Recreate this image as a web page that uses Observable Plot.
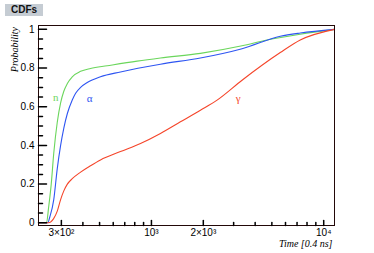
<!DOCTYPE html>
<html><head><meta charset="utf-8">
<script src="https://cdn.jsdelivr.net/npm/d3@7"></script>
<script src="https://cdn.jsdelivr.net/npm/@observablehq/plot@0.6"></script>
<style>
html,body{margin:0;padding:0;background:#fff;}
#wrap{position:relative;width:374px;height:253px;}
#title{position:absolute;left:5px;top:4px;width:38px;height:12px;background:#c5ccd3;font:bold 10px "Liberation Sans",Arial,sans-serif;color:#111;text-align:center;line-height:12px;}
#ylab{position:absolute;left:15px;top:27px;transform-origin:0 0;transform:rotate(-90deg) translate(-100%,-50%);white-space:nowrap;font:italic 10px "Liberation Serif","Times New Roman",serif;color:#000;line-height:12px;}
</style></head>
<body><div id="wrap"><div id="title">CDFs</div><div id="ylab">Probability</div></div>
<script>
// Time values [0.4 ns] and CDF values
const nTime   = [221, 246, 253, 262, 271, 284, 297, 310, 325, 347, 388, 443, 554, 826, 1128, 1924, 3357, 4686, 7307, 11550];
const nProb   = [0, 0, 0.08, 0.20, 0.36, 0.52, 0.62, 0.68, 0.72, 0.755, 0.783, 0.798, 0.812, 0.836, 0.852, 0.876, 0.915, 0.945, 0.975, 1.0];
const aTime   = [221, 250, 257, 271, 284, 297, 310, 325, 347, 363, 388, 424, 506, 661, 1128, 1924, 3357, 5596, 7307, 11550];
const aProb   = [0, 0, 0.03, 0.12, 0.28, 0.40, 0.49, 0.565, 0.635, 0.67, 0.70, 0.725, 0.755, 0.78, 0.82, 0.852, 0.90, 0.964, 0.981, 1.0];
const gTime   = [221, 253, 270, 284, 297, 310, 325, 347, 388, 443, 506, 661, 864, 1128, 1473, 1924, 2404, 3357, 5596, 7307, 11550];
const gProb   = [0, 0, 0.02, 0.06, 0.12, 0.165, 0.20, 0.228, 0.262, 0.295, 0.325, 0.368, 0.41, 0.462, 0.522, 0.582, 0.634, 0.737, 0.88, 0.945, 1.0];

const seriesNames  = ["n", "α", "γ"];
const seriesColors = ["#6bd65c", "#2e55f2", "#f5452a"];
const labelTime    = [278, 437, 3192];
const labelProb    = [0.65, 0.645, 0.645];

const xTickValues = [300, 1000, 2000, 10000];
const xTickLabels = ["3×10²", "10³", "2×10³", "10⁴"];
const xMinorTicks = [400, 500, 600, 700, 800, 900, 3000, 4000, 5000, 6000, 7000, 8000, 9000];
const yTickValues = [0, 0.2, 0.4, 0.6, 0.8, 1];
const yTickLabels = ["0", "0.2", "0.4", "0.6", "0.8", "1"];
const yMinorTicks = [0.05,0.1,0.15,0.25,0.3,0.35,0.45,0.5,0.55,0.65,0.7,0.75,0.85,0.9,0.95];

// right-edge drop segments of the histograms
const edgeSeries = ["n", "γ"];
const edgeLow    = [0.39, 0];
const edgeHigh   = [1.0, 0.39];

const xDomain = [221, 11550];
const yDomain = [-0.014, 1.02];

const colorOf = Object.fromEntries(seriesNames.map((s, i) => [s, seriesColors[i]]));
const curves = [
  ...nTime.map((t, i) => ({s: "n", t, p: nProb[i]})),
  ...aTime.map((t, i) => ({s: "α", t, p: aProb[i]})),
  ...gTime.map((t, i) => ({s: "γ", t, p: gProb[i]}))
];
const labels = seriesNames.map((s, i) => ({s, t: labelTime[i], p: labelProb[i]}));
const edges = edgeSeries.map((s, i) => ({s, y1: edgeLow[i], y2: edgeHigh[i]}));
const xLab = xTickValues.map((v, i) => ({v, text: xTickLabels[i]}));
const yLab = yTickValues.map((v, i) => ({v, text: yTickLabels[i]}));

const tickUp = {draw(ctx, l) { ctx.moveTo(0, 0); ctx.lineTo(0, -l); }};
const tickRight = {draw(ctx, l) { ctx.moveTo(0, 0); ctx.lineTo(l, 0); }};
const sans = "Liberation Sans, Arial, sans-serif";
const serif = "Liberation Serif, Times New Roman, serif";

const chart = Plot.plot({
  width: 374, height: 253,
  marginLeft: 38, marginRight: 40, marginTop: 25, marginBottom: 28,
  style: {background: "white", overflow: "visible"},
  x: {type: "log", domain: xDomain, axis: null},
  y: {domain: yDomain, axis: null},
  marks: [
    Plot.ruleY([yDomain[0]], {stroke: "#f08080", strokeWidth: 1}),
    Plot.line(curves, {x: "t", y: "p", z: "s", stroke: d => colorOf[d.s], strokeWidth: 1.1, curve: "monotone-x"}),
    Plot.ruleX(edges, {x: () => xDomain[1], y1: "y1", y2: "y2", stroke: d => colorOf[d.s], strokeWidth: 1}),
    Plot.frame({stroke: "#220808", strokeWidth: 1}),
    Plot.vector(xTickValues, {x: d => d, frameAnchor: "bottom", length: 5, anchor: "start", shape: tickUp, stroke: "black"}),
    Plot.vector(xMinorTicks, {x: d => d, frameAnchor: "bottom", length: 3, anchor: "start", shape: tickUp, stroke: "black"}),
    Plot.vector(yTickValues, {y: d => d, frameAnchor: "left", length: 8, anchor: "start", shape: tickRight, stroke: "black"}),
    Plot.vector(yMinorTicks, {y: d => d, frameAnchor: "left", length: 4, anchor: "start", shape: tickRight, stroke: "black"}),
    Plot.text(xLab, {x: "v", text: "text", frameAnchor: "bottom", dy: 10, fontSize: 10, fontFamily: sans, fill: "black"}),
    Plot.text(yLab, {y: "v", text: "text", frameAnchor: "left", dx: -4, textAnchor: "end", fontSize: 10, fontFamily: sans, fill: "black"}),
    Plot.text(labels, {x: "t", y: "p", text: "s", fill: d => colorOf[d.s], fontSize: 11, fontFamily: serif}),
    Plot.text(["Time [0.4 ns]"], {frameAnchor: "bottom-right", dy: 21, dx: -2, textAnchor: "end", text: d => d, fontStyle: "italic", fontSize: 10, fontFamily: serif, fill: "black"})
  ]
});
document.getElementById("wrap").insertBefore(chart, document.getElementById("title"));
</script>
</body></html>
